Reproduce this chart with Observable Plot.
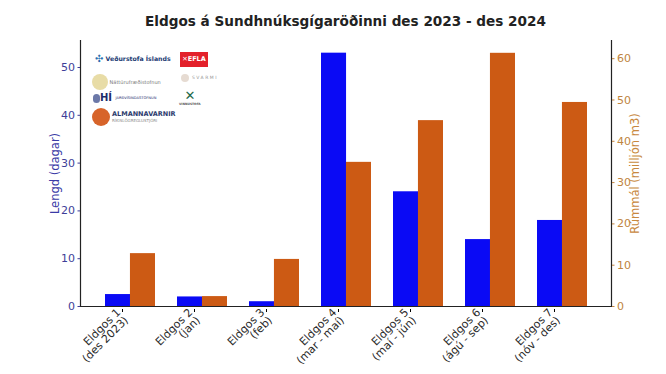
<!DOCTYPE html>
<html>
<head>
<meta charset="utf-8">
<script src="https://cdn.jsdelivr.net/npm/d3@7"></script>
<script src="https://cdn.jsdelivr.net/npm/@observablehq/plot@0.6"></script>
<style>
  html, body { margin: 0; padding: 0; background: #fff; }
  #wrap { position: relative; width: 666px; height: 374px; font-family: "DejaVu Sans", sans-serif; }
  #title { height: 30px; line-height: 43px; text-align: center; font-weight: bold; font-size: 13.6px; color: #222; padding-left: 25px; box-sizing: border-box; }
  .logo { position: absolute; font-family: "DejaVu Sans", sans-serif; white-space: nowrap; }
</style>
</head>
<body>
<div id="wrap">
  <div id="title">Eldgos á Sundhnúksgígaröðinni des 2023 - des 2024</div>
  <div id="chart"></div>
  <div id="logos"></div>
</div>
<script>
const categories = [
  "Eldgos 1\n(des 2023)",
  "Eldgos 2\n(jan)",
  "Eldgos 3\n(feb)",
  "Eldgos 4\n(mar - maí)",
  "Eldgos 5\n(maí - jún)",
  "Eldgos 6\n(ágú - sep)",
  "Eldgos 7\n(nóv - des)"
];
const lengthDays = [2.5, 2, 1, 53, 24, 14, 18];
const volumeMillionM3 = [12.8, 2.4, 11.4, 34.9, 45, 61.3, 49.4];
const leftTicks = [0, 10, 20, 30, 40, 50];
const rightTicks = [0, 10, 20, 30, 40, 50, 60];
const leftMax = 55.65;
const rightMax = 64.4;

const k = leftMax / rightMax;
const data = categories.map((c, i) => ({cat: c, days: lengthDays[i], vol: volumeMillionM3[i], volScaled: volumeMillionM3[i] * k}));

const W = 666, H = 344, mL = 80, mR = 55, mT = 10, mB = 68;
const pIn = 0.31, pOut = 0.327;
const step = (W - mL - mR) / (categories.length - pIn + 2 * pOut);
const bw = step * (1 - pIn);

const blue = "#0a0af5";
const orange = "#cc5a14";
const leftCol = "#3e3e98";
const rightCol = "#c08440";

const chart = Plot.plot({
  width: W, height: H,
  marginLeft: mL, marginRight: mR, marginTop: mT, marginBottom: mB,
  style: {fontFamily: "DejaVu Sans", fontSize: "11px", background: "#fff"},
  x: {type: "band", domain: categories, paddingInner: pIn, paddingOuter: pOut, axis: null},
  y: {domain: [0, leftMax], axis: null},
  marks: [
    Plot.barY(data, {x: "cat", y: "days", fill: blue, insetRight: bw / 2, insetLeft: 0}),
    Plot.barY(data, {x: "cat", y: "volScaled", fill: orange, insetLeft: bw / 2, insetRight: 0}),
    Plot.frame({anchor: "left", stroke: "#222", strokeWidth: 1.2}),
    Plot.frame({anchor: "right", stroke: "#222", strokeWidth: 1.2}),
    Plot.frame({anchor: "bottom", stroke: "#222", strokeWidth: 1.2}),
    Plot.axisY({anchor: "left", ticks: leftTicks, tickSize: 2.5, tickPadding: 3, color: leftCol, fill: leftCol, fontSize: 11, label: null}),
    Plot.axisY({anchor: "right", ticks: rightTicks.map(v => v * k), tickFormat: d => String(Math.round(d / k)), tickSize: 2.5, tickPadding: 3, color: rightCol, fill: rightCol, fontSize: 11, label: null}),
    Plot.axisX({anchor: "bottom", tickRotate: -45, tickSize: 3, tickPadding: 2, fontSize: 11, fill: "#2a2a2a", label: null, dx: -8, dy: 3}),
    Plot.text(["Lengd (dagar)"], {frameAnchor: "left", textAnchor: "middle", dx: -25, rotate: -90, fill: "#3a3aa6", fontSize: 11.5}),
    Plot.text(["Rúmmál (milljón m3)"], {frameAnchor: "right", textAnchor: "middle", dx: 24, rotate: -90, fill: "#c8883e", fontSize: 11.5})
  ]
});
document.getElementById("chart").appendChild(chart);

// Partner logos (approximated as small text badges)
const logos = document.getElementById("logos");
logos.innerHTML = `
  <div class="logo" style="left:95px;top:54px;font-size:6.2px;font-weight:bold;color:#1b3b73;line-height:10px;"><span style="color:#2a6fb0;font-size:10px;vertical-align:middle;">✣</span> <span style="vertical-align:middle;">Veðurstofa Íslands</span></div>
  <div class="logo" style="left:180px;top:52px;width:28px;height:15px;background:#e3202a;color:#fff;font-size:6.5px;font-weight:bold;line-height:15px;text-align:center;">✕EFLA</div>
  <div class="logo" style="left:92px;top:73px;font-size:5px;color:#777;line-height:16px;"><span style="display:inline-block;width:16px;height:16px;border-radius:8px;background:#e8dca6;vertical-align:middle;"></span> <span style="vertical-align:middle;">Náttúrufræðistofnun</span></div>
  <div class="logo" style="left:181px;top:74px;font-size:4.5px;color:#999;letter-spacing:1.5px;line-height:8px;"><span style="display:inline-block;width:8px;height:8px;border-radius:4px;background:#e6dbd2;vertical-align:middle;"></span> <span style="vertical-align:middle;">SVARMI</span></div>
  <div class="logo" style="left:93px;top:92px;font-size:10px;font-weight:bold;color:#1d2c6b;line-height:12px;"><span style="display:inline-block;width:7px;height:9px;border-radius:4px;background:#6b78a8;vertical-align:middle;"></span><span style="vertical-align:middle;">HÍ</span> <span style="font-size:3.6px;font-weight:normal;vertical-align:middle;">JARÐVÍSINDASTOFNUN</span></div>
  <div class="logo" style="left:179px;top:89px;font-size:13px;font-weight:bold;color:#1f6a4a;line-height:14px;text-align:center;">✕<div style="font-size:3px;color:#555;line-height:3px;">VINNUSTOFA</div></div>
  <div class="logo" style="left:92px;top:108px;font-size:6.5px;font-weight:bold;color:#2d3c6e;line-height:6px;"><span style="display:inline-block;width:18px;height:18px;border-radius:9px;background:#d7642a;vertical-align:middle;margin-right:2px;"></span><span style="display:inline-block;vertical-align:middle;">ALMANNAVARNIR<br><span style="font-size:4px;font-weight:normal;color:#888;">RÍKISLÖGREGLUSTJÓRI</span></span></div>
`;
</script>
</body>
</html>
